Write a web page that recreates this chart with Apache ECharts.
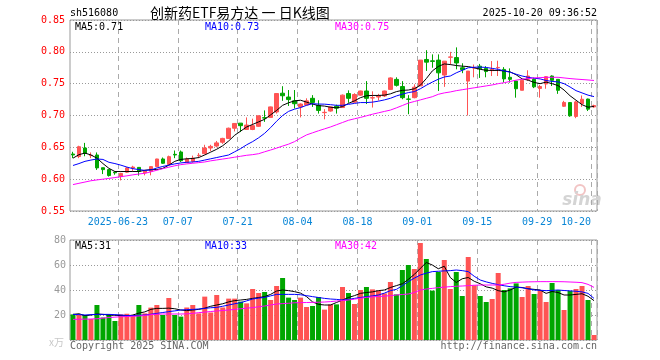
<!DOCTYPE html>
<html><head><meta charset="utf-8">
<script src="https://cdn.jsdelivr.net/npm/echarts@6/dist/echarts.min.js"></script>
<style>html,body{margin:0;padding:0;background:#fff}#c{width:660px;height:360px}</style>
</head><body><div id="c"></div>
<script>
const dates = [
'2025-06-11','2025-06-12','2025-06-13','2025-06-16','2025-06-17','2025-06-18','2025-06-19','2025-06-20','2025-06-23','2025-06-24',
'2025-06-25','2025-06-26','2025-06-27','2025-06-30','2025-07-01','2025-07-02','2025-07-03','2025-07-04','2025-07-07','2025-07-08',
'2025-07-09','2025-07-10','2025-07-11','2025-07-14','2025-07-15','2025-07-16','2025-07-17','2025-07-18','2025-07-21','2025-07-22',
'2025-07-23','2025-07-24','2025-07-25','2025-07-28','2025-07-29','2025-07-30','2025-07-31','2025-08-01','2025-08-04','2025-08-05',
'2025-08-06','2025-08-07','2025-08-08','2025-08-11','2025-08-12','2025-08-13','2025-08-14','2025-08-15','2025-08-18','2025-08-19',
'2025-08-20','2025-08-21','2025-08-22','2025-08-25','2025-08-26','2025-08-27','2025-08-28','2025-08-29','2025-09-01','2025-09-02',
'2025-09-03','2025-09-04','2025-09-05','2025-09-08','2025-09-09','2025-09-10','2025-09-11','2025-09-12','2025-09-15','2025-09-16',
'2025-09-17','2025-09-18','2025-09-19','2025-09-22','2025-09-23','2025-09-24','2025-09-25','2025-09-26','2025-09-29','2025-09-30',
'2025-10-09','2025-10-10','2025-10-13','2025-10-14','2025-10-15','2025-10-16','2025-10-17','2025-10-20'];
const opens = [
.6395,.6355,.649,.637,.638,.618,.615,.611,.604,.611,
.6175,.6185,.610,.6125,.6197,.6317,.623,.639,.6427,.626,
.628,.637,.640,.649,.652,.658,.664,.680,.688,.678,
.678,.683,.6965,.697,.7055,.735,.729,.723,.7135,.7166,
.727,.716,.7045,.707,.7145,.7125,.7345,.721,.732,.7385,
.7275,.729,.7307,.741,.7567,.7455,.7258,.728,.7465,.788,
.7858,.787,.7635,.7915,.791,.775,.754,.7745,.7775,.774,
.7705,.775,.7724,.760,.754,.7396,.7568,.7568,.7425,.7495,
.762,.7568,.7145,.7203,.6985,.7185,.7258,.7135];
const closes = [
.638,.651,.6405,.6375,.6177,.615,.6057,.610,.609,.6177,
.619,.6125,.613,.6197,.6317,.625,.6354,.638,.629,.6315,
.633,.6375,.649,.6515,.657,.664,.680,.6875,.684,.685,
.684,.6995,.696,.7135,.7345,.731,.725,.7185,.718,.723,
.7205,.708,.705,.7135,.7115,.732,.727,.733,.7385,.727,
.728,.731,.7385,.759,.7474,.728,.7255,.7445,.787,.7838,
.785,.767,.7854,.792,.7825,.772,.7698,.775,.7735,.769,
.7725,.7755,.7575,.7568,.742,.7552,.762,.745,.7455,.761,
.7552,.7396,.7205,.6995,.7214,.7255,.710,.7156];
const lows = [
.633,.633,.636,.633,.6145,.608,.604,.607,.598,.610,
.613,.6055,.606,.606,.619,.624,.622,.633,.627,.626,
.626,.633,.639,.644,.650,.6555,.6635,.675,.674,.678,
.677,.682,.690,.697,.703,.723,.715,.711,.697,.716,
.7135,.703,.694,.706,.703,.712,.720,.720,.731,.718,
.7125,.7235,.729,.740,.7455,.7255,.702,.727,.7465,.770,
.775,.7385,.745,.780,.7725,.7665,.700,.760,.759,.760,
.762,.762,.752,.7516,.728,.7396,.7545,.743,.728,.742,
.7463,.734,.7135,.698,.6958,.7135,.707,.712];
const highs = [
.643,.6525,.657,.642,.642,.618,.616,.612,.610,.619,
.621,.619,.614,.620,.632,.634,.637,.645,.645,.634,
.637,.641,.654,.654,.660,.665,.681,.688,.688,.697,
.695,.700,.708,.714,.735,.746,.740,.740,.719,.727,
.732,.724,.710,.714,.717,.733,.7395,.735,.739,.754,
.738,.734,.739,.760,.760,.754,.732,.749,.787,.8026,
.796,.796,.7854,.800,.807,.782,.7698,.780,.781,.7775,
.7855,.786,.776,.774,.754,.7552,.771,.7595,.748,.762,
.763,.7568,.723,.7205,.723,.7315,.7265,.717];
const volumes = [
20.5,20,20,16.8,28,18,20.5,15.2,20.5,21,
20,28,21.3,25.9,28,20,33.6,20,18.7,26,
28,21.3,34.7,22,36,26,33.1,33.1,30.7,29.3,
40.8,37.6,38.4,32,43.2,49.6,33.9,32,33.9,26.4,
27.2,34.4,24.3,28.5,28.5,42.4,37.6,28.8,40,42.4,
40.5,39.5,37.3,46.4,36.5,56,60,56.8,77.6,64.8,
39.5,54.4,64,40.8,54.4,35.2,66.4,43.7,35.2,30.4,
32.8,53.6,40,41.3,45.3,34.4,43.2,36.8,40,30.4,
45.6,40,24,39.2,40.8,43.2,32,4];
const ma5 = [
.633,.6385,.641,.638,.633,.6245,.617,.612,.612,.612,
.612,.612,.614,.615,.615,.617,.622,.628,.631,.632,
.6325,.634,.638,.6425,.647,.6525,.660,.669,.6755,.682,
.686,.690,.694,.701,.708,.716,.720,.723,.724,.721,
.718,.7155,.7148,.713,.712,.714,.719,.723,.728,.731,
.7315,.7315,.732,.734,.7375,.7395,.740,.742,.7475,.758,
.770,.777,.781,.780,.7785,.7775,.7768,.775,.7725,.771,
.7708,.7708,.770,.7685,.764,.7575,.7555,.752,.750,.7525,
.750,.747,.740,.731,.724,.717,.713,.7144];
const ma10 = [
.6215,.6245,.628,.630,.6317,.631,.6265,.6245,.622,.619,
.6165,.615,.6138,.6145,.6175,.620,.622,.624,.6255,.6265,
.627,.628,.630,.632,.634,.636,.638,.643,.648,.654,
.659,.665,.672,.681,.691,.700,.7065,.710,.7125,.716,
.7185,.718,.7178,.717,.716,.716,.7175,.719,.7203,.7203,
.721,.7225,.7245,.727,.7307,.7335,.736,.7375,.742,.7475,
.7525,.757,.7605,.762,.767,.771,.775,.7758,.776,.7755,
.774,.7725,.770,.768,.7648,.762,.760,.7585,.7575,.755,
.7535,.7528,.750,.7448,.739,.7355,.732,.7297];
const ma30 = [
.5915,.5935,.5955,.5975,.5988,.600,.6012,.6025,.604,.6052,
.6068,.6081,.6092,.6115,.614,.6165,.6188,.621,.6228,.624,
.625,.626,.627,.6288,.6302,.6316,.633,.6345,.636,.6375,
.6385,.640,.643,.6458,.6488,.652,.655,.659,.6645,.6695,
.6728,.676,.679,.682,.6855,.689,.6925,.6948,.697,.6995,
.702,.7042,.7064,.7085,.712,.7157,.7195,.722,.7245,.727,
.7295,.7333,.7355,.737,.739,.7405,.742,.7435,.745,.7465,
.748,.750,.7515,.7535,.7555,.757,.758,.759,.7595,.760,
.760,.760,.759,.758,.7572,.7565,.7558,.755];
const vma5 = [
20.5,21,19.5,20,20.8,20.5,20,19.8,19.5,19.2,
20,21.5,22.5,24.5,25.3,25.3,25.5,25,24,23.5,
24,24.5,25.5,27,28,29,30.5,31.5,32,32.5,
33.3,34,34.7,36.5,39.2,40,39.5,38.7,37.5,34.7,
30.5,28.5,28,28,30,32,34,35.5,37.3,38,
38.5,39.5,40,42,43.5,45,48.5,52.5,57.3,62,
60,57,59,50,46,49,50,47,45,42.5,
41.5,39.5,38.5,40,42.3,42,41,40.5,40,37.3,
38.8,38,36,36,36.5,37,35,31.5];
const vma10 = [
20.5,20.3,20,20.3,20.5,20.5,20.5,20.3,20,19.6,
19.5,19.8,20,20.6,21.3,22,22.7,23.3,24,24.3,
24.5,24.8,25.3,25.8,26.1,27,28,29,29.9,31.3,
32.8,33.5,34.1,35.3,36.5,36.5,36.5,36.5,36.2,35.5,
34.7,34,33.3,32.8,32.5,32,32.5,33.3,34,34.7,
35.3,36,37.5,39.5,40.5,43.5,46.7,49.5,52,53.5,
54.7,55,55.3,55.5,56,55.5,54.7,51,48,46.5,
45.3,44.3,43.4,42.7,42.3,41.8,41,40,39.8,39.5,
39.7,40,39.6,39.3,39,38.5,37.3,33.3];
const vma30 = [
16.5,16.6,16.7,16.8,17,17.5,18,18.3,18.6,18.8,
19,19.2,19.7,20.3,20.6,20.8,20.8,20.8,20.8,20.9,
21.3,21.9,22.3,22.8,23.2,23.6,24,24.5,25,25.5,
25.9,26.6,27.2,28,28.8,29.1,29.4,29.8,29.9,30,
30.1,30.2,30.4,30.7,31.2,31.6,32,32.7,33.4,34.1,
34.5,34.8,35.1,35.5,36,36.4,36.8,38,40,40.8,
41.3,41.9,42.3,42.7,43,43.2,43.5,43.8,44,44,
44,44,44.6,45.5,46.1,46.3,46.5,46.6,46.7,46.7,
46.7,46.7,46.6,46.4,46.2,45.9,44.5,42.1];
const tickDates = ['2025-06-23','2025-07-07','2025-07-21','2025-08-04','2025-08-18','2025-09-01','2025-09-15','2025-09-29','2025-10-20'];
const tickLabels = ['2025-06-23','07-07','07-21','08-04','08-18','09-01','09-15','09-29','10-20'];
const priceTicks = {min: 0.55, max: 0.85, step: 0.05};
const volTicks = {min: 0, max: 80, step: 20};
const maLegendPrice = ['MA5:0.71', 'MA10:0.73', 'MA30:0.75'];
const maLegendVol = ['MA5:31', 'MA10:33', 'MA30:42'];
const titleCode = 'sh516080';
const titleText = '创新药ETF易方达 一 日K线图';
const stamp = '2025-10-20 09:36:52';

const UP = '#ff5454', DOWN = '#00a600';
const MONO = 'DejaVu Sans Mono';
const tickIdx = tickDates.map(d => dates.indexOf(d));
const gridDash = {color: '#aaa', type: [5, 4], width: 1};
const gridDot = {color: '#999', type: [1, 2], width: 1};

const chart = echarts.init(document.getElementById('c'), null, {renderer: 'canvas'});
const xBase = (gi) => ({
  type: 'category', gridIndex: gi, data: dates, boundaryGap: true,
  axisLine: {show: false}, axisTick: {show: false},
  splitLine: {show: true, interval: (i) => tickIdx.includes(i), lineStyle: gridDash}
});
const x0 = xBase(0);
x0.axisLabel = {
  show: true, interval: (i) => tickIdx.includes(i), margin: 6,
  color: '#0a86d6', fontFamily: MONO, fontSize: 10, padding: [0, 6, 0, 0],
  formatter: (v) => { const j = tickDates.indexOf(v); if (j < 0) return ''; const s = tickLabels[j]; return j === tickLabels.length - 1 ? '{r|' + s + '}' : s; },
  rich: {r: {color: '#0a86d6', fontFamily: MONO, fontSize: 10, padding: [0, 30, 0, 0]}}
};
const x1 = xBase(1);
x1.axisLabel = {show: false};

const lineS = (name, data, color, xi) => ({
  name, type: 'line', xAxisIndex: xi, yAxisIndex: xi, data, showSymbol: false, symbol: 'none',
  lineStyle: {color, width: 1}, itemStyle: {color}, z: 5, silent: true
});

const option = {
  animation: false,
  backgroundColor: '#fff',
  grid: [
    {left: 70, top: 20, width: 527, height: 191, show: true, borderColor: '#999', borderWidth: 1, backgroundColor: 'transparent'},
    {left: 70, top: 240, width: 527, height: 100, show: true, borderColor: '#999', borderWidth: 1, backgroundColor: 'transparent'}
  ],
  xAxis: [x0, x1],
  yAxis: [
    {type: 'value', gridIndex: 0, min: priceTicks.min, max: priceTicks.max, interval: priceTicks.step,
     axisLine: {show: false}, axisTick: {show: false},
     axisLabel: {color: '#ff0000', fontFamily: MONO, fontSize: 10, margin: 5, formatter: (v) => v.toFixed(2)},
     splitLine: {show: true, lineStyle: gridDot}},
    {type: 'value', gridIndex: 1, min: volTicks.min, max: volTicks.max, interval: volTicks.step,
     axisLine: {show: false}, axisTick: {show: false},
     axisLabel: {color: '#999', fontFamily: MONO, fontSize: 10, margin: 4,
       formatter: (v) => v === 0 ? '{u|x万}' : String(v),
       rich: {u: {color: '#c8c8c8', fontSize: 10, fontFamily: 'Noto Sans CJK SC', padding: [4, 2, 0, 0]}}},
     splitLine: {show: true, lineStyle: gridDot}}
  ],
  series: [
    {type: 'candlestick', xAxisIndex: 0, yAxisIndex: 0, barWidth: 4,
     data: dates.map((d, i) => [opens[i], closes[i], lows[i], highs[i]]),
     itemStyle: {color: UP, color0: DOWN, borderColor: UP, borderColor0: DOWN, borderWidth: 1}, z: 3},
    lineS('MA5', ma5, '#000000', 0),
    lineS('MA10', ma10, '#0000ff', 0),
    lineS('MA30', ma30, '#ff00ff', 0),
    {type: 'bar', xAxisIndex: 1, yAxisIndex: 1, barWidth: 5,
     data: volumes.map((v, i) => ({value: v, itemStyle: {color: closes[i] >= opens[i] ? UP : DOWN}})), z: 3},
    lineS('VMA5', vma5, '#000000', 1),
    lineS('VMA10', vma10, '#0000ff', 1),
    lineS('VMA30', vma30, '#ff00ff', 1)
  ],
  graphic: [
    {type: 'text', x: 70, y: 13, z: 10, style: {text: titleCode, fill: '#000', font: '10px ' + MONO, align: 'left', verticalAlign: 'middle'}},
    {type: 'text', x: 150, y: 13, z: 10, style: {text: titleText, fill: '#000', font: '14px "Noto Sans CJK SC"', align: 'left', verticalAlign: 'middle'}},
    {type: 'text', x: 597, y: 13, z: 10, style: {text: stamp, fill: '#000', font: '10px ' + MONO, align: 'right', verticalAlign: 'middle'}},
    {type: 'text', x: 75, y: 27, z: 10, style: {text: maLegendPrice[0], fill: '#000', font: '10px ' + MONO, verticalAlign: 'middle'}},
    {type: 'text', x: 205, y: 27, z: 10, style: {text: maLegendPrice[1], fill: '#0000ff', font: '10px ' + MONO, verticalAlign: 'middle'}},
    {type: 'text', x: 335, y: 27, z: 10, style: {text: maLegendPrice[2], fill: '#ff00ff', font: '10px ' + MONO, verticalAlign: 'middle'}},
    {type: 'text', x: 75, y: 246, z: 10, style: {text: maLegendVol[0], fill: '#000', font: '10px ' + MONO, verticalAlign: 'middle'}},
    {type: 'text', x: 205, y: 246, z: 10, style: {text: maLegendVol[1], fill: '#0000ff', font: '10px ' + MONO, verticalAlign: 'middle'}},
    {type: 'text', x: 335, y: 246, z: 10, style: {text: maLegendVol[2], fill: '#ff00ff', font: '10px ' + MONO, verticalAlign: 'middle'}},
    {type: 'text', x: 70, y: 346, z: 10, style: {text: 'Copyright 2025 SINA.COM', fill: '#666', font: '10px ' + MONO, verticalAlign: 'middle'}},
    {type: 'text', x: 597, y: 346, z: 10, style: {text: 'http://finance.sina.com.cn', fill: '#666', font: '10px ' + MONO, align: 'right', verticalAlign: 'middle'}},
    {type: 'circle', z: 0, shape: {cx: 580, cy: 190, r: 5}, style: {fill: 'none', stroke: '#f2c4c4', lineWidth: 2}},
    {type: 'text', x: 582, y: 201, z: 0, style: {text: 'sina', fill: '#d4d4d4', font: 'italic bold 17px "DejaVu Sans"', align: 'center', verticalAlign: 'middle'}}
  ]
};
chart.setOption(option);
</script></body></html>
